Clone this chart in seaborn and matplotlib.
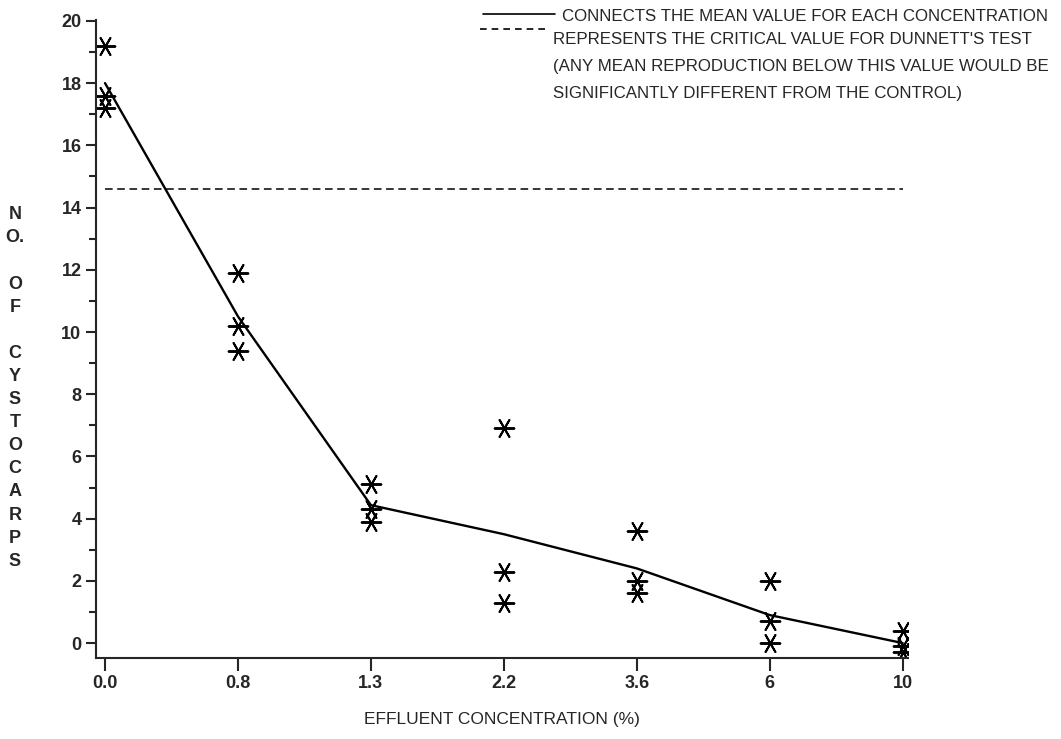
import pandas as pd
import numpy as np
import matplotlib.pyplot as plt
import seaborn as sns

concentrations = ['0.0', '0.8', '1.3', '2.2', '3.6', '6', '10']
rep_1 = [19.2, 11.9, 5.1, 6.9, 3.6, 2.0, 0.4]
rep_2 = [17.6, 10.2, 4.3, 2.3, 2.0, 0.7, -0.1]
rep_3 = [17.2, 9.4, 3.9, 1.3, 1.6, 0.0, -0.3]
dunnett_critical = 14.6

legend_lines = [
    'CONNECTS THE MEAN VALUE FOR EACH CONCENTRATION',
    "REPRESENTS THE CRITICAL VALUE FOR DUNNETT'S TEST",
    '(ANY MEAN REPRODUCTION BELOW THIS VALUE WOULD BE',
    'SIGNIFICANTLY DIFFERENT FROM THE CONTROL)',
]

data = pd.DataFrame({
    'conc': concentrations * 3,
    'cystocarps': rep_1 + rep_2 + rep_3,
})

sns.set_style('ticks')
plt.rcParams['font.family'] = ['Liberation Sans', 'DejaVu Sans']

fig = plt.figure(figsize=(10.61, 7.39), dpi=100)
ax = fig.add_axes([96 / 1061, 1 - 658 / 739, (908 - 96) / 1061, (658 - 20) / 739])

# mean line through the concentrations
sns.lineplot(data=data, x='conc', y='cystocarps', estimator='mean', errorbar=None,
             color='black', linewidth=1.7, ax=ax, sort=False)
sns.scatterplot(data=data, x='conc', y='cystocarps', marker=(6, 2, 90), s=200,
                color='black', linewidth=1.4, edgecolor='black', ax=ax)
ax.hlines(dunnett_critical, 0, len(concentrations) - 1, colors='black',
          linestyles=(0, (5, 3)), linewidth=1.1)

ax.set_xlim(-0.068, 6.04)
ax.set_ylim(-0.48, 20.03)
ax.set_yticks(np.arange(0, 21, 2))
ax.set_yticks(np.arange(1, 20, 2), minor=True)
ax.tick_params(axis='y', which='major', length=7, width=1.5, labelsize=13)
ax.tick_params(axis='y', which='minor', length=5, width=1.5)
ax.tick_params(axis='x', length=9, width=1.5, labelsize=13)
for lbl in ax.get_xticklabels() + ax.get_yticklabels():
    lbl.set_fontweight('bold')
for s in ['left', 'bottom']:
    ax.spines[s].set_linewidth(1.5)
sns.despine(ax=ax)

ax.set_xlabel('EFFLUENT CONCENTRATION (%)', fontsize=12.5, labelpad=14)
ax.set_ylabel('')
ylab = 'N\nO.\n\nO\nF\n\nC\nY\nS\nT\nO\nC\nA\nR\nP\nS'
fig.text(15 / 1061, 1 - 388 / 739, ylab, ha='center', va='center', fontsize=13,
         fontweight='bold', linespacing=1.47)

# legend text block at top right
fig.add_artist(plt.Line2D([483 / 1061, 555 / 1061], [1 - 14 / 739, 1 - 14 / 739],
                          color='black', linewidth=1.2))
fig.add_artist(plt.Line2D([480 / 1061, 548 / 1061], [1 - 29 / 739, 1 - 29 / 739],
                          color='black', linewidth=1.2, linestyle=(0, (4, 3))))
fig.text(562 / 1061, 1 - 21 / 739, legend_lines[0], fontsize=12.2, va='baseline')
for txt, base in zip(legend_lines[1:], [44, 71, 98]):
    fig.text(553 / 1061, 1 - base / 739, txt, fontsize=12.2, va='baseline')

fig.savefig('out.png', dpi=100)
